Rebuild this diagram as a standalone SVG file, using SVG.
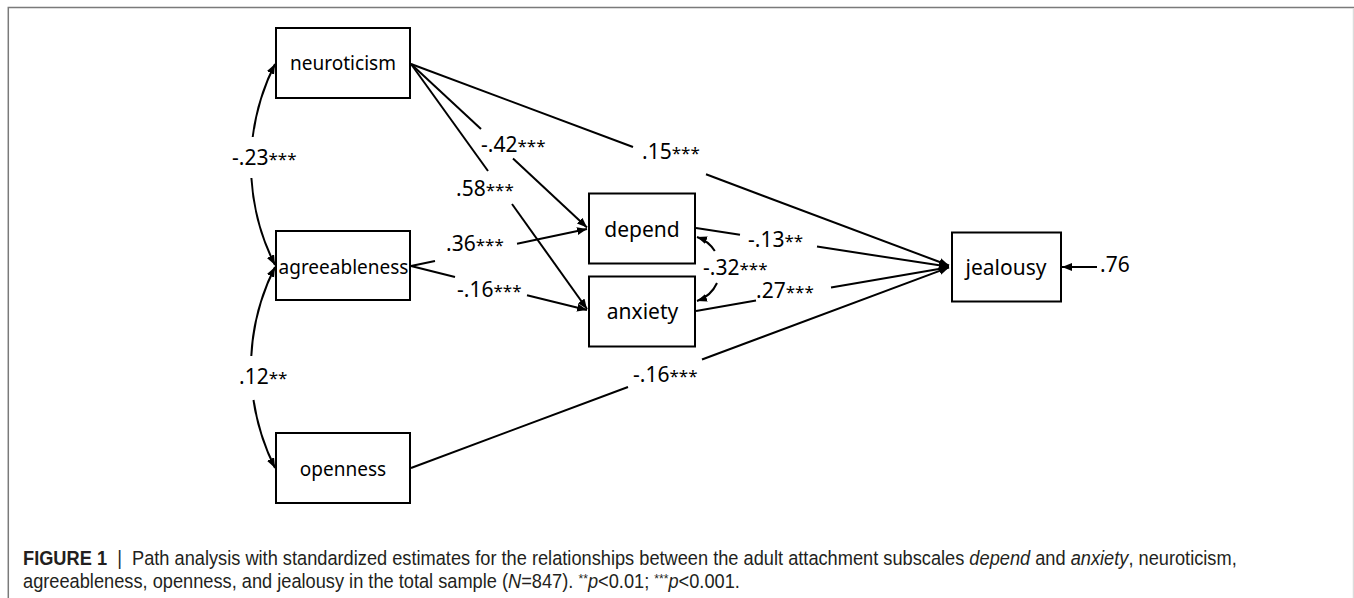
<svg xmlns="http://www.w3.org/2000/svg" width="1354" height="598" viewBox="0 0 1354 598">
<style>
.box{fill:#fff;stroke:#000;stroke-width:2}
.nt{font-family:"Noto Sans","Open Sans",sans-serif;fill:#000;text-anchor:middle}
.l19{font-size:19px}
.l21{font-size:21px}
.ln{fill:none;stroke:#000;stroke-width:2}
.lbl{font-family:"Noto Sans","Open Sans",sans-serif;font-size:21px;fill:#000}
.st{font-size:17px}
.cap{font-family:"Liberation Sans",Arial,sans-serif;font-size:19.5px;fill:#231f20}
.frame{stroke:#7a7a7a;stroke-width:1.5;fill:none}
</style>
<defs>
<marker id="ah" markerUnits="userSpaceOnUse" markerWidth="11" markerHeight="9" refX="10" refY="4" orient="auto-start-reverse">
<path d="M0,0 L10,4 L0,8 z" fill="#000"/>
</marker>
</defs>
<rect width="1354" height="598" fill="#fff"/>
<path class="frame" d="M8.3,598 L8.3,7.5 L1354,7.5"/>
<path d="M1353.5,8 L1353.5,598" stroke="#dcdcdc" stroke-width="1.5"/>

<g id="connectors">
<path class="ln" d="M411,64 L633,147"/>
<path class="ln" d="M706,174.3 L949,265.5" marker-end="url(#ah)"/>
<path class="ln" d="M411,64 L481,128.9"/>
<path class="ln" d="M513,158.5 L587,227.5" marker-end="url(#ah)"/>
<path class="ln" d="M411,64 L488,171"/>
<path class="ln" d="M512,204 L587,309" marker-end="url(#ah)"/>
<path class="ln" d="M411,266 L435,261"/>
<path class="ln" d="M517,243.8 L587,229" marker-end="url(#ah)"/>
<path class="ln" d="M411,266 L455,277"/>
<path class="ln" d="M527,295.2 L587,310" marker-end="url(#ah)"/>
<path class="ln" d="M696,228 L740,234.8"/>
<path class="ln" d="M817,246.6 L949,266.8" marker-end="url(#ah)"/>
<path class="ln" d="M696,311 L756,300.6"/>
<path class="ln" d="M831,287.6 L949,267.2" marker-end="url(#ah)"/>
<path class="ln" d="M411,468 L628,387"/>
<path class="ln" d="M702,359.5 L949,267.4" marker-end="url(#ah)"/>
<path class="ln" d="M1097,267 L1062,267" marker-end="url(#ah)"/>
<path class="ln" d="M714.8,251 A33.8,33.8 0 0 0 697,237" marker-end="url(#ah)"/>
<path class="ln" d="M717,283 A33.8,33.8 0 0 1 697,301" marker-end="url(#ah)"/>
<path class="ln" d="M252.7,137 A222.4,222.4 0 0 1 275,64" marker-end="url(#ah)"/>
<path class="ln" d="M251.4,178 A222.4,222.4 0 0 0 275,265" marker-end="url(#ah)"/>
<path class="ln" d="M251.3,356 A222.4,222.4 0 0 1 275,267" marker-end="url(#ah)"/>
<path class="ln" d="M253.5,400 A222.4,222.4 0 0 0 275,468" marker-end="url(#ah)"/>
</g>

<g id="labels">
<text class="lbl" x="232" y="165">-.23<tspan class="st">***</tspan></text>
<text class="lbl" x="481" y="152">-.42<tspan class="st">***</tspan></text>
<text class="lbl" x="456" y="196">.58<tspan class="st">***</tspan></text>
<text class="lbl" x="642" y="159">.15<tspan class="st">***</tspan></text>
<text class="lbl" x="446" y="251">.36<tspan class="st">***</tspan></text>
<text class="lbl" x="457" y="297">-.16<tspan class="st">***</tspan></text>
<text class="lbl" x="239" y="384">.12<tspan class="st">**</tspan></text>
<text class="lbl" x="748" y="247">-.13<tspan class="st">**</tspan></text>
<text class="lbl" x="703" y="275">-.32<tspan class="st">***</tspan></text>
<text class="lbl" x="756" y="298">.27<tspan class="st">***</tspan></text>
<text class="lbl" x="633" y="382">-.16<tspan class="st">***</tspan></text>
<text class="lbl" x="1100" y="272">.76</text>
</g>

<g id="neuroticism"><rect class="box" x="276" y="28" width="134" height="70"/><text class="nt l19" x="343" y="70">neuroticism</text></g>
<g id="agreeableness"><rect class="box" x="276" y="231" width="134" height="69"/><text class="nt l19" x="343.5" y="274">agreeableness</text></g>
<g id="openness"><rect class="box" x="276" y="433" width="134" height="70"/><text class="nt l19" x="343" y="476">openness</text></g>
<g id="depend"><rect class="box" x="589" y="193.5" width="106" height="70"/><text class="nt l21" x="642" y="236.5">depend</text></g>
<g id="anxiety"><rect class="box" x="589" y="276.5" width="106" height="70"/><text class="nt l21" x="642.5" y="319">anxiety</text></g>
<g id="jealousy"><rect class="box" x="952" y="232.5" width="109" height="69"/><text class="nt l21" x="1006" y="275">jealousy</text></g>

<g id="caption" transform="translate(23,0) scale(0.935,1)">
<text class="cap" x="0" y="565"><tspan font-weight="bold">FIGURE 1</tspan> &#160;| &#160;Path analysis with standardized estimates for the relationships between the adult attachment subscales <tspan font-style="italic">depend</tspan> and <tspan font-style="italic">anxiety</tspan>, neuroticism,</text>
<text class="cap" x="0" y="588">agreeableness, openness, and jealousy in the total sample (<tspan font-style="italic">N</tspan>=847). <tspan font-size="13" baseline-shift="5">**</tspan><tspan font-style="italic">p</tspan>&lt;0.01; <tspan font-size="13" baseline-shift="5">***</tspan><tspan font-style="italic">p</tspan>&lt;0.001.</text>
</g>
</svg>
